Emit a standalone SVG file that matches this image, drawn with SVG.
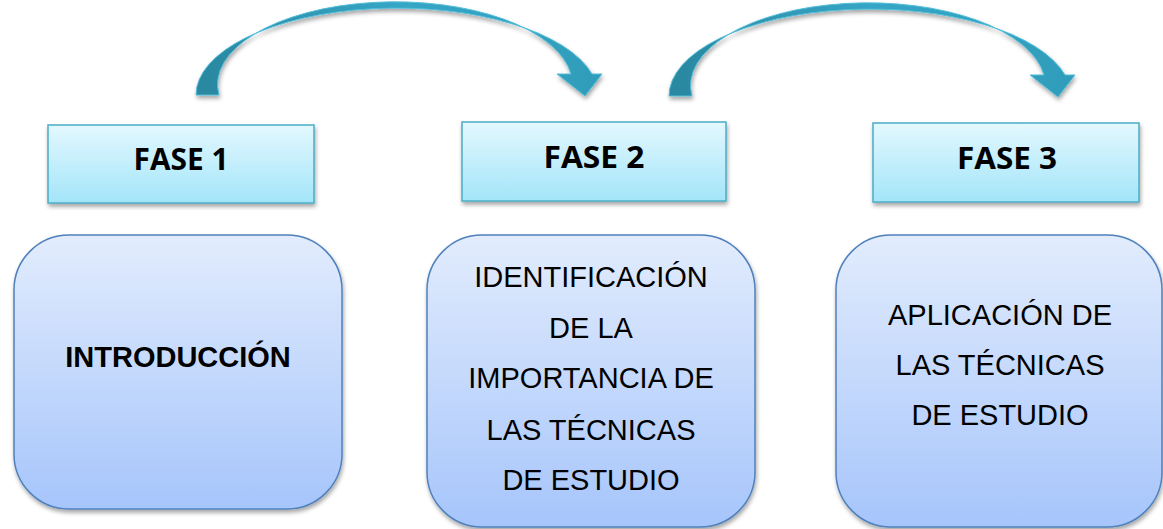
<svg xmlns="http://www.w3.org/2000/svg" width="1163" height="529" viewBox="0 0 1163 529">
  <defs>
    <linearGradient id="gFase" x1="0" y1="0" x2="0" y2="1">
      <stop offset="0" stop-color="#e3f8fe"/>
      <stop offset="1" stop-color="#a3e5f9"/>
    </linearGradient>
    <linearGradient id="gBox" x1="0" y1="0" x2="0" y2="1">
      <stop offset="0" stop-color="#e2ecfd"/>
      <stop offset="1" stop-color="#a6c5fb"/>
    </linearGradient>
    <linearGradient id="gArrow" x1="0" y1="0" x2="1" y2="0">
      <stop offset="0" stop-color="#2a879f"/>
      <stop offset="0.5" stop-color="#35a6c6"/>
      <stop offset="1" stop-color="#2f9dbb"/>
    </linearGradient>
    <filter id="shadow" x="-10%" y="-10%" width="120%" height="130%">
      <feDropShadow dx="1" dy="3" stdDeviation="2" flood-color="#000" flood-opacity="0.35"/>
    </filter>
    <path id="arrowShape" d="M196,95 A201,87 0 0 1 592,74 L602,74 L585,96 L557,74 L571,74 A176,82 0 0 0 219,95 Z"/>
  </defs>
  <style>
    .fase { fill: url(#gFase); stroke: #4bacc6; stroke-width: 1.5; filter: url(#shadow); }
    .box { fill: url(#gBox); stroke: #4f81bd; stroke-width: 1.5; filter: url(#shadow); }
    .arrow { fill: url(#gArrow); stroke: #52bdd9; stroke-width: 1; filter: url(#shadow); }
    .ftxt { font-family: "Open Sans", "Liberation Sans", sans-serif; font-weight: 700; font-size: 30px; fill: #000; text-anchor: middle; }
    .btxt { font-family: "Liberation Sans", Arial, sans-serif; font-size: 29px; fill: #000; text-anchor: middle; }
    .bold { font-weight: 700; }
  </style>

  <g id="connectors">
    <use href="#arrowShape" class="arrow"/>
    <use href="#arrowShape" class="arrow" transform="translate(473,1)"/>
  </g>

  <g id="fase1">
    <rect class="fase" x="48" y="125" width="266" height="78"/>
    <text class="ftxt" x="181" y="170" textLength="95" lengthAdjust="spacingAndGlyphs">FASE 1</text>
  </g>
  <g id="fase2">
    <rect class="fase" x="462" y="122" width="264" height="79"/>
    <text class="ftxt" x="594" y="168" textLength="101" lengthAdjust="spacingAndGlyphs">FASE 2</text>
  </g>
  <g id="fase3">
    <rect class="fase" x="873" y="123" width="266" height="79"/>
    <text class="ftxt" x="1007" y="169" textLength="100" lengthAdjust="spacingAndGlyphs">FASE 3</text>
  </g>

  <g id="box1">
    <rect class="box" x="14" y="235" width="328" height="274" rx="55" ry="55"/>
    <text class="btxt bold" x="178" y="367">INTRODUCCIÓN</text>
  </g>
  <g id="box2">
    <rect class="box" x="427" y="235" width="328" height="292" rx="55" ry="55"/>
    <text class="btxt" x="591" y="287">IDENTIFICACIÓN</text>
    <text class="btxt" x="591" y="338">DE LA</text>
    <text class="btxt" x="591" y="388">IMPORTANCIA DE</text>
    <text class="btxt" x="591" y="440">LAS TÉCNICAS</text>
    <text class="btxt" x="591" y="490">DE ESTUDIO</text>
  </g>
  <g id="box3">
    <rect class="box" x="836" y="235" width="326" height="292" rx="55" ry="55"/>
    <text class="btxt" x="1000" y="325">APLICACIÓN DE</text>
    <text class="btxt" x="1000" y="375">LAS TÉCNICAS</text>
    <text class="btxt" x="1000" y="425">DE ESTUDIO</text>
  </g>
</svg>
